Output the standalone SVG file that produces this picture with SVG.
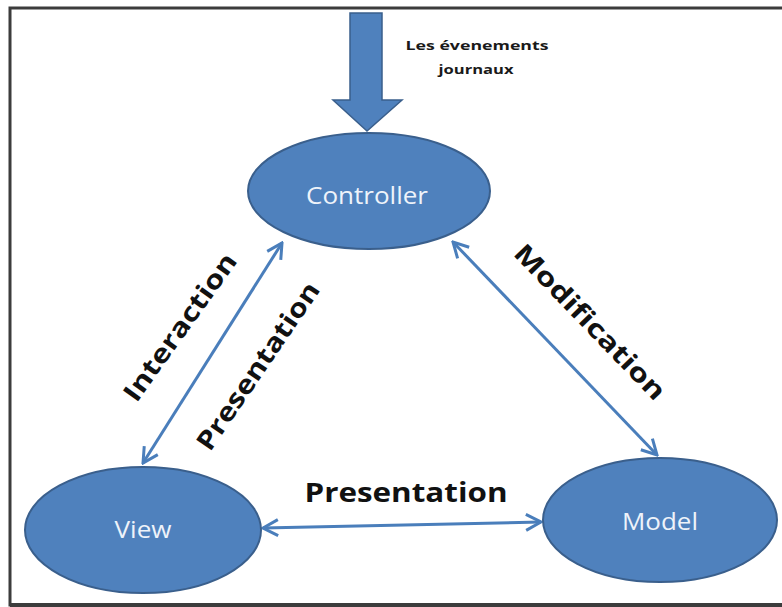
<svg xmlns="http://www.w3.org/2000/svg" width="782" height="607" viewBox="0 0 782 607">
  <style>
    .node { fill: #4F81BD; stroke: #3A5F8C; stroke-width: 2; }
    .nlabel { font-family: "Open Sans", "Liberation Sans", sans-serif; fill: #EEF3FA; text-anchor: middle; }
    .edge { stroke: #4A7EBB; stroke-width: 3; fill: none; marker-start: url(#chev); marker-end: url(#chev); }
    .elabel { font-family: "Open Sans", "Liberation Sans", sans-serif; font-weight: bold; fill: #111; text-anchor: middle; font-size: 26px; }
    .note { font-family: "Open Sans", "Liberation Sans", sans-serif; font-weight: bold; fill: #1a1a1a; text-anchor: middle; font-size: 13px; }
  </style>
  <defs>
    <marker id="chev" viewBox="0 0 20 20" refX="18" refY="10" markerWidth="20" markerHeight="20" markerUnits="userSpaceOnUse" orient="auto-start-reverse">
      <path d="M3,2 L18,10 L3,18" fill="none" stroke="#4A7EBB" stroke-width="3" stroke-linejoin="miter"/>
    </marker>
  </defs>

  <rect width="782" height="607" fill="#ffffff"/>

  <!-- frame -->
  <path d="M782,8 H10 V605 H782" fill="none" stroke="#3c3c3c" stroke-width="3"/>
  <line x1="10" y1="605" x2="782" y2="605" stroke="#3c3c3c" stroke-width="4"/>

  <!-- incoming events arrow -->
  <g id="events">
    <path d="M350,13 H382 V100 H402 L367,131 L333,100 H350 Z" fill="#4F81BD" stroke="#3A5F8C" stroke-width="1.5"/>
    <text class="note" x="477" y="50" textLength="143" lengthAdjust="spacingAndGlyphs">Les évenements</text>
    <text class="note" x="476" y="74" textLength="75" lengthAdjust="spacingAndGlyphs">journaux</text>
  </g>

  <!-- connectors -->
  <g id="connectors">
    <line class="edge" x1="282" y1="243" x2="143" y2="463"/>
    <line class="edge" x1="453" y1="242" x2="657" y2="455"/>
    <line class="edge" x1="263" y1="528" x2="541" y2="522"/>
    <g transform="translate(180,327) rotate(-54.4)">
      <text class="elabel" x="0" y="9" textLength="175" lengthAdjust="spacingAndGlyphs">Interaction</text>
    </g>
    <g transform="translate(258,366) rotate(-55.7)">
      <text class="elabel" x="0" y="9" textLength="197" lengthAdjust="spacingAndGlyphs">Presentation</text>
    </g>
    <g transform="translate(590,322) rotate(46)">
      <text class="elabel" x="0" y="9" textLength="205" lengthAdjust="spacingAndGlyphs">Modification</text>
    </g>
    <text class="elabel" x="406" y="502" textLength="203" lengthAdjust="spacingAndGlyphs">Presentation</text>
  </g>

  <!-- nodes -->
  <g id="controller">
    <ellipse class="node" cx="369" cy="191" rx="121" ry="58"/>
    <text class="nlabel" x="367" y="204" font-size="23" textLength="122" lengthAdjust="spacingAndGlyphs">Controller</text>
  </g>
  <g id="view">
    <ellipse class="node" cx="143" cy="530" rx="118" ry="63"/>
    <text class="nlabel" x="143" y="538" font-size="23" textLength="57" lengthAdjust="spacingAndGlyphs">View</text>
  </g>
  <g id="model">
    <ellipse class="node" cx="660" cy="520" rx="117" ry="62"/>
    <text class="nlabel" x="660" y="530" font-size="23" textLength="76" lengthAdjust="spacingAndGlyphs">Model</text>
  </g>
</svg>
